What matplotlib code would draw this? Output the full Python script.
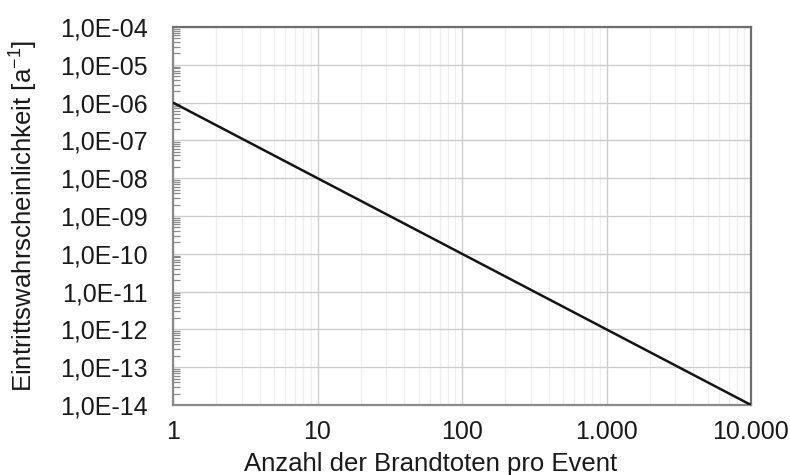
import math
import matplotlib
matplotlib.use("Agg")
import matplotlib.pyplot as plt
from matplotlib.ticker import FixedLocator, LogLocator, NullFormatter, FuncFormatter

# Fatalities per event and annual frequency
deaths = [1, 10000]
frequency = [1e-6, 1e-14]

x_ticks = [1, 10, 100, 1000, 10000]
x_tick_labels = ["1", "10", "100", "1.000", "10.000"]
y_exponents = list(range(-14, -3))

plt.rcParams["font.family"] = ["Liberation Sans", "DejaVu Sans"]

fig = plt.figure(figsize=(7.9, 4.75), dpi=100)
ax = fig.add_axes([173 / 790, 1 - 405 / 475, (751 - 173) / 790, (405 - 27) / 475])

ax.plot(deaths, frequency, color="#141414", lw=1.8, solid_capstyle="butt", zorder=3)

ax.set_xscale("log")
ax.set_yscale("log")
ax.set_xlim(1, 10000)
ax.set_ylim(1e-14, 1e-4)

ax.xaxis.set_major_locator(FixedLocator(x_ticks))
ax.set_xticklabels(x_tick_labels)
ax.xaxis.set_minor_locator(LogLocator(base=10, subs=range(2, 10)))
ax.xaxis.set_minor_formatter(NullFormatter())

ax.yaxis.set_major_locator(FixedLocator([10.0 ** e for e in y_exponents]))
ax.yaxis.set_major_formatter(
    FuncFormatter(lambda v, p: "1,0E-%02d" % round(-math.log10(v)))
)
ax.yaxis.set_minor_locator(LogLocator(base=10, subs=range(2, 10), numticks=20))
ax.yaxis.set_minor_formatter(NullFormatter())

ax.grid(which="major", color="#cdcdcd", lw=1.0)
ax.grid(which="minor", axis="x", color="#efefef", lw=0.9)

for side, s in ax.spines.items():
    s.set_color("#8a8a8a" if side in ("left", "bottom") else "#6e6e6e")
    s.set_linewidth(1.6)

ax.tick_params(axis="both", which="major", direction="in", length=0,
               labelsize=18, labelcolor="#1a1a1a")
ax.tick_params(axis="x", which="major", pad=11)
ax.tick_params(axis="y", which="major", pad=18)
ax.tick_params(axis="y", which="minor", direction="in", length=5, width=0.9,
               color="#8a8a8a", left=True, right=False)
ax.tick_params(axis="x", which="minor", length=0)

ax.set_xlabel("Anzahl der Brandtoten pro Event", fontsize=18.5, color="#1a1a1a")
ax.xaxis.set_label_coords((431 - 173) / 578, -0.124)
ax.set_ylabel("Eintrittswahrscheinlichkeit [a$^{\\mathregular{-1}}$]", fontsize=18.5,
              color="#1a1a1a", labelpad=15)

fig.savefig("out.png", dpi=100)
